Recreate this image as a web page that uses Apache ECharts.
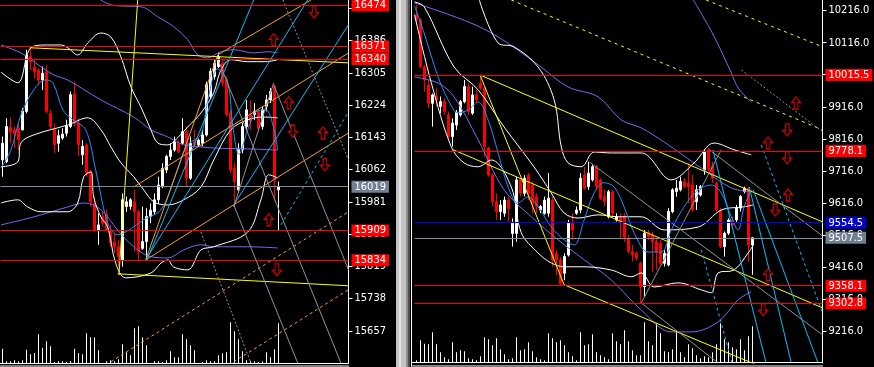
<!DOCTYPE html>
<html><head><meta charset="utf-8">
<script src="https://cdn.jsdelivr.net/npm/echarts@6/dist/echarts.min.js"></script>
<style>html,body{margin:0;padding:0;background:#000;overflow:hidden}#c{width:874px;height:367px;}</style>
</head><body><div id="c"></div>
<script>
// ---------------- DATA ----------------
// candles: [open, close, low, high]
const leftCandles = [
[16086,16128,16044,16145],[16082,16170,16078,16191],[16168,16157,16128,16193],[16162,16153,16116,16170],[16166,16136,16111,16178],
[16162,16209,16160,16216],[16208,16350,16203,16363],[16346,16333,16312,16367],[16319,16308,16291,16338],[16311,16287,16275,16317],
[16287,16304,16262,16321],[16308,16208,16203,16325],[16203,16170,16162,16212],[16163,16124,16103,16178],[16128,16147,16107,16162],
[16141,16151,16137,16166],[16153,16172,16145,16187],[16170,16250,16166,16258],[16252,16178,16170,16283],[16178,16124,16095,16191],
[16099,16120,16074,16136],[16124,16053,16044,16128],[16057,15981,15969,16061],[15977,15910,15906,15994],[15910,15923,15873,15952],
[15944,15927,15919,15956],[15950,15910,15910,15961],[15910,15877,15868,15923],[15880,15868,15852,15902],[15868,15843,15818,15885],
[15835,15986,15818,16002],[15969,15981,15956,15994],[15969,15986,15961,15990],[15981,15956,15856,16011],[15956,15856,15835,15961],
[15864,15881,15860,15969],[15881,15944,15835,15965],[15944,15960,15927,15977],[15956,15986,15948,16002],[15986,16023,15977,16044],
[16019,16065,16015,16078],[16061,16095,16053,16099],[16095,16111,16086,16128],[16111,16132,16107,16145],[16128,16107,16103,16136],
[16128,16157,16124,16191],[16157,16040,16019,16170],[16040,16128,16036,16145],[16132,16124,16120,16162],[16124,16136,16120,16140],
[16128,16149,16120,16162],[16149,16275,16145,16283],[16246,16309,16241,16317],[16296,16329,16288,16338],[16321,16346,16317,16355],
[16329,16279,16271,16338],[16288,16200,16195,16296],[16204,16061,16053,16212],[16066,16032,15969,16078],[16011,16112,16003,16128],
[16112,16170,16103,16179],[16170,16212,16162,16237],[16200,16183,16162,16237],[16200,16208,16187,16229],[16208,16166,16158,16212],
[16170,16212,16162,16221],[16221,16237,16208,16250],[16237,16258,16229,16267],[16271,16036,15982,16275],[16011,16019,15909,16032]
];
const leftVolume = [43,5,5,8,5,8,40,26,30,86,46,65,50,3,5,5,3,6,43,30,26,89,77,77,38,0,5,8,5,11,
56,33,23,104,110,77,53,0,5,5,3,8,35,17,17,86,71,53,38,0,3,8,5,5,23,29,32,122,95,71,35,8,5,5,3,5,32,17,41,119];

const rightCandles = [
[10203,10187,10171,10234],[10187,10041,10036,10192],[10041,10000,9963,10047],[9984,9927,9911,10000],[9927,9953,9854,9958],
[9948,9937,9917,9974],[9917,9932,9896,9948],[9932,9901,9891,9943],[9891,9823,9818,9901],[9823,9865,9792,9880],
[9859,9899,9844,9906],[9891,9932,9885,9937],[9932,9979,9927,10000],[9979,9901,9891,9989],[9896,9953,9891,9979],
[9953,9937,9927,9969],[9989,9974,9969,10015],[9974,9792,9761,9979],[9787,9703,9698,9792],[9703,9620,9605,9709],
[9620,9589,9563,9646],[9589,9610,9563,9625],[9584,9625,9573,9636],[9625,9599,9558,9636],[9521,9553,9480,9568],
[9521,9688,9495,9698],[9688,9646,9636,9693],[9646,9693,9636,9703],[9703,9646,9625,9709],[9672,9615,9584,9683],
[9636,9605,9584,9646],[9594,9605,9584,9610],[9584,9625,9579,9636],[9584,9631,9573,9709],[9625,9438,9417,9636],
[9459,9438,9391,9469],[9438,9365,9360,9448],[9397,9449,9375,9459],[9454,9553,9449,9563],[9553,9532,9501,9584],
[9584,9594,9579,9605],[9594,9693,9584,9709],[9703,9662,9657,9729],[9667,9709,9657,9745],[9688,9729,9683,9735],
[9729,9667,9657,9735],[9688,9631,9625,9693],[9636,9620,9605,9657],[9573,9651,9568,9657],[9651,9584,9573,9657],
[9563,9573,9558,9584],[9573,9558,9505,9584],[9575,9510,9495,9585],[9506,9464,9459,9516],[9464,9454,9433,9485],
[9459,9444,9438,9464],[9428,9355,9303,9433],[9355,9522,9324,9532],[9522,9511,9501,9532],[9516,9496,9402,9527],
[9496,9464,9407,9506],[9490,9428,9423,9501],[9428,9459,9418,9470],[9423,9590,9418,9600],[9589,9657,9584,9662],
[9652,9662,9636,9688],[9657,9683,9652,9698],[9683,9667,9662,9693],[9678,9667,9615,9740],[9672,9594,9589,9704],
[9620,9657,9594,9672],[9641,9667,9636,9672],[9719,9776,9704,9782],[9782,9719,9714,9787],[9730,9693,9678,9745],
[9678,9594,9589,9683],[9594,9480,9475,9600],[9480,9522,9449,9527],[9522,9563,9516,9568],[9563,9548,9537,9574],
[9563,9600,9553,9610],[9600,9636,9589,9641],[9652,9662,9646,9667],[9662,9485,9433,9667],[9485,9507.5,9392,9510]
];
const rightVolume = [8,68,58,56,92,56,32,17,11,62,32,38,35,14,11,8,20,77,71,53,74,41,26,11,14,77,38,41,62,35,
17,11,8,89,74,62,68,53,32,20,8,92,53,56,86,32,23,17,11,89,65,56,98,65,38,23,23,122,65,53,
119,89,35,32,41,92,32,17,56,44,23,14,20,17,32,56,119,71,62,47,41,71,38,80,110];

// axis tick labels
const leftTicks = [15657,15738,15819,15900,15981,16062,16143,16224,16305,16386,16467];
const rightTicks = [9216,9316,9416,9516,9616,9716,9816,9916,10016,10116,10216];

// horizontal levels
const leftRedLevels = [16474,16371,16340,15909,15834];
const leftLastPrice = 16019;
const rightRedLevels = [10015.5,9778.1,9358.1,9302.8];
const rightBlueLevel = 9554.5;
const rightLastPrice = 9507.5;

// trend lines: [barIndex1, price1, barIndex2, price2]
const leftYellow = [[6.8,16368,86.5,16330],[28.8,15800,86.5,15770],[29.1,15797,33.8,16488]];
const leftOrange = [[32.8,16018,86.5,16355],[35.8,15835,86.5,16154],[35.8,15835,53.8,16350],[53.8,16350,77.1,16488]];
const leftOrangeDash = [[27.1,15579,86.5,15956],[57.8,15579,86.5,15760]];
const leftSky = [[36.1,15835,62.8,16488],[36.1,15840,76.3,16488],[57.8,15973,86.5,16426]];
const leftSkyDash = [[69.6,15923,86.5,16207]];
const leftGray = [[54.1,16333,84.6,15576],[57.8,15973,73.8,15576],[67.8,16275,86.5,15810],[57.8,15968,67.8,16280]];
const leftGrayDash = [[70.1,16488,86.5,16086],[49.6,15905,62.1,15576]];

const rightYellow = [[15.9,10015,101.5,9557],[9.2,9782,101.5,9289],[15.9,10015,36.9,9361],[36.9,9361,86.2,9105]];
const rightYellowDash = [[23.7,10249,101.5,9844],[72.4,10249,101.5,10103]];
const rightGray = [[73.2,9782,101.5,9513],[43.2,9744,101.5,9205],[56.2,9304,76.2,9782],[56.2,9304,75.4,9117]];
const rightGrayDash = [[81.2,10031,101.5,9838]];
const rightSky = [[74.1,9782,87.4,9117],[83.2,9666,93.7,9117],[84.2,9657,100.4,9117]];
const rightSkyDash = [[86.2,9797,101.5,9273],[71.2,9470,78.9,9117]];

// indicator curves: [barIndex, price]
const leftFastMA = [[-0.4,16066],[2.1,16111],[4.6,16199],[7.8,16262],[10.8,16287],[12.6,16280],[15.1,16212],[17.6,16187],[20.8,16162],[23.3,16061],[26.3,15928],[28.8,15898],[31.6,15910],[35.3,15936],[39.6,15961],[43.3,16049],[46.3,16124],[49.6,16150],[51.3,16235],[53.8,16315],[56.3,16280],[57.6,16170],[59.1,16100],[61.3,16162],[63.3,16207],[65.8,16212],[67.6,16174],[68.8,16111]];
const leftBandUpper = [[-0.4,16307],[3.8,16280],[7.1,16368],[11.3,16375],[14.6,16375],[16.3,16368],[18.8,16350],[21.3,16380],[24.6,16405],[27.1,16395],[29.6,16345],[32.1,16270],[34.6,16219],[37.1,16162],[38.8,16129],[41.3,16124],[43.8,16142],[46.3,16169],[49.6,16204],[52.8,16255],[54.6,16312],[57.1,16338],[61.3,16333],[65.8,16333],[68.8,16338]];
const leftBandMid = [[-0.4,16069],[3.8,16081],[4.6,16129],[7.8,16149],[16.3,16174],[21.3,16192],[24.6,16162],[27.1,16119],[29.6,16079],[32.8,16044],[35.3,16011],[37.8,15981],[41.3,15973],[45.3,15986],[49.6,16018],[52.8,16086],[57.1,16162],[61.3,16187],[65.3,16194],[68.8,16192]];
const leftBandLower = [[-0.4,15978],[3.8,15986],[6.3,15968],[9.6,15956],[16.3,15956],[18.8,15978],[20.3,16044],[22.1,16056],[22.8,15993],[24.6,15943],[26.3,15918],[28.3,15827],[30.8,15790],[37.1,15802],[39.6,15827],[41.3,15835],[42.8,15817],[46.3,15810],[49.6,15860],[52.8,15868],[61.3,15905],[64.6,15986],[66.6,16049],[68.8,16041]];
const leftSlowTop = [[23.3,16501],[24.6,16488],[27.1,16476],[29.6,16473],[34.6,16471],[38.8,16446],[42.8,16421],[46.3,16388],[48.8,16350],[51.3,16343],[54.6,16358],[57.8,16363],[62.8,16355],[66.3,16358],[68.8,16355]];
const leftSlowMid = [[-0.4,16375],[4.6,16355],[7.8,16333],[12.8,16300],[16.3,16287],[24.6,16237],[32.8,16194],[37.1,16162],[41.3,16144],[45.3,16124],[49.6,16119],[52.8,16116],[61.3,16114],[68.8,16111]];
const leftSlowLow = [[-0.4,15923],[7.8,15943],[16.3,15968],[20.3,15978],[24.6,15961],[28.8,15910],[32.8,15868],[37.1,15843],[41.3,15840],[45.3,15860],[49.6,15873],[52.8,15868],[61.3,15868],[68.8,15865]];

const rightFastMA = [[-0.5,10231],[1.9,10146],[5.4,10009],[7.9,9938],[10.4,9897],[12.9,9906],[15.4,9931],[17.9,9875],[20.4,9772],[22.9,9666],[25.4,9616],[27.9,9635],[30.4,9604],[33.7,9541],[36.9,9501],[39.4,9485],[41.9,9563],[44.4,9647],[46.9,9679],[49.4,9666],[51.9,9604],[54.4,9523],[57.9,9463],[61.2,9463],[63.7,9532],[66.9,9604],[70.4,9657],[73.7,9672],[76.2,9647],[78.7,9573],[80.4,9532],[81.9,9604],[83.7,9657]];
const rightBandUpper = [[15.7,10249],[20.4,10115],[24.4,10103],[30.4,10040],[34.4,9938],[36.2,9791],[37.9,9741],[41.2,9729],[44.4,9775],[48.7,9772],[56.2,9772],[63.7,9688],[69.4,9741],[74.4,9803],[79.4,9782],[83.7,9766]];
const rightBandMid = [[-0.5,10243],[1.9,10228],[9.4,10040],[15.4,9969],[21.9,9853],[29.4,9728],[33.7,9647],[36.9,9585],[40.4,9569],[45.4,9579],[50.4,9573],[56.2,9573],[61.9,9532],[70.4,9541],[76.2,9594],[81.9,9604],[84.2,9610]];
const rightBandLower = [[-0.5,10203],[3.7,9991],[8.7,9791],[11.9,9741],[15.4,9729],[18.7,9750],[23.7,9666],[26.2,9523],[30.4,9460],[33.7,9429],[36.9,9417],[41.9,9417],[48.7,9407],[53.7,9386],[56.2,9398],[59.4,9354],[65.4,9367],[71.2,9345],[73.7,9336],[75.4,9398],[79.4,9407],[82.9,9460],[84.2,9485]];
const rightSlowTop = [[69.2,10249],[74.2,10140],[78.7,10022],[80.4,9975],[83.7,9931]];
const rightSlowMid = [[-0.5,10240],[12.9,10181],[20.4,10134],[30.4,10047],[37.9,9978],[45.4,9947],[51.2,9875],[56.2,9850],[61.9,9806],[71.2,9725],[78.7,9663],[83.7,9651]];
const rightSlowLow = [[-0.5,10009],[5.4,9990],[9.4,9947],[15.4,9813],[21.9,9657],[28.7,9573],[35.4,9501],[41.9,9439],[48.7,9376],[56.2,9282],[63.7,9214],[68.7,9214],[75.4,9245],[80.4,9314],[83.7,9339]];

// signal arrows: [barIndex, price]
const leftUpArrows = [[67.8,16388],[71.6,16230],[80.1,16154],[66.6,15936]];
const leftDownArrows = [[77.9,16458],[72.6,16159],[80.6,16074],[68.6,15810]];
const rightUpArrows = [[94.9,9928],[92.9,9641],[87.9,9803],[87.9,9392]];
const rightDownArrows = [[92.7,9844],[92.7,9757],[89.7,9594],[86.7,9283]];

// ---------------- CHART ----------------
const FONT = "'Liberation Sans Narrow','DejaVu Sans Condensed','Liberation Sans',sans-serif";
const LSLOTS = 87, RSLOTS = 102;
const chart = echarts.init(document.getElementById('c'), null, {renderer:'canvas'});

function segs(list, xi, yi, color, dash) {
  return list.map(s => ({type:'line', xAxisIndex:xi, yAxisIndex:yi, data:[[s[0],s[1]],[s[2],s[3]]],
    symbol:'none', silent:true, z:3, clip:true, animation:false,
    lineStyle:{color:color, width:1, type: dash || 'solid'}}));
}
function curve(pts, xi, yi, color) {
  return {type:'line', xAxisIndex:xi, yAxisIndex:yi, data:pts, symbol:'none', smooth:0.35,
    silent:true, z:3, clip:true, animation:false, lineStyle:{color:color, width:1}};
}
const UP = 'path://M5,0L10,6L7,6L7,13L3,13L3,6L0,6Z';
const DOWN = 'path://M3,0L7,0L7,7L10,7L5,13L0,7L3,7Z';
function arrows(pts, xi, yi, sym) {
  return {type:'scatter', xAxisIndex:xi, yAxisIndex:yi, data:pts, symbol:sym, symbolSize:[9,12],
    silent:true, z:5, animation:false,
    itemStyle:{color:'#000', borderColor:'#ff0000', borderWidth:1.2}};
}
function levels(red, others, fmt) {
  const d = red.map(v => ({yAxis:v, lineStyle:{color:'#ff0000'}, label:{backgroundColor:'#ff0000'}}));
  others.forEach(o => d.push({yAxis:o.v, lineStyle:{color:o.c}, label:{backgroundColor:o.bg}}));
  return {symbol:['none','none'], silent:true, animation:false,
    lineStyle:{type:'solid', width:1},
    label:{show:true, position:'end', distance:3, color:'#ffffff', fontSize:11, fontFamily:FONT,
      padding:[1,3,0,3], formatter: p => fmt(p.value)},
    data:d};
}
function yAx(gi, min, max, ticks, fmt) {
  return {type:'value', gridIndex:gi, position:'right', min:min, max:max,
    axisLine:{show:true, onZero:false, lineStyle:{color:'#ffffff', width:1}},
    axisTick:{show:true, customValues:ticks, length:4, inside:false, lineStyle:{color:'#ffffff'}},
    axisLabel:{show:true, customValues:ticks, color:'#ffffff', fontSize:11, fontFamily:FONT, margin:6, formatter:fmt},
    splitLine:{show:false}};
}

const candleStyle = {color:'#ffffff', color0:'#ff0000', borderColor:'#ffffff', borderColor0:'#ff0000', borderWidth:1};

const series = [
  {type:'bar', xAxisIndex:0, yAxisIndex:1, data:leftVolume, barWidth:1, itemStyle:{color:'#ffffff'}, silent:true, animation:false, z:1},
  {type:'bar', xAxisIndex:2, yAxisIndex:3, data:rightVolume, barWidth:1, itemStyle:{color:'#ffffff'}, silent:true, animation:false, z:1},
  {type:'candlestick', xAxisIndex:0, yAxisIndex:0, data:leftCandles, barWidth:3, itemStyle:candleStyle, silent:true, animation:false, z:2,
    markLine: levels(leftRedLevels, [{v:leftLastPrice, c:'#7f8b97', bg:'#708090'}], v => String(Math.round(v)))},
  {type:'candlestick', xAxisIndex:2, yAxisIndex:2, data:rightCandles, barWidth:3, itemStyle:candleStyle, silent:true, animation:false, z:2,
    markLine: levels(rightRedLevels, [{v:rightBlueLevel, c:'#0000ff', bg:'#0000cd'},{v:rightLastPrice, c:'#7f8b97', bg:'#708090'}], v => Number(v).toFixed(1))},
  // left indicators
  curve(leftSlowTop,1,0,'#7b68ee'), curve(leftSlowMid,1,0,'#7b68ee'), curve(leftSlowLow,1,0,'#7b68ee'),
  curve(leftBandUpper,1,0,'#ffffff'), curve(leftBandMid,1,0,'#ffffff'), curve(leftBandLower,1,0,'#ffffff'),
  curve(leftFastMA,1,0,'#1e90ff'),
  // right indicators
  curve(rightSlowTop,3,2,'#7b68ee'), curve(rightSlowMid,3,2,'#7b68ee'), curve(rightSlowLow,3,2,'#7b68ee'),
  curve(rightBandUpper,3,2,'#ffffff'), curve(rightBandMid,3,2,'#ffffff'), curve(rightBandLower,3,2,'#ffffff'),
  curve(rightFastMA,3,2,'#1e90ff'),
  ...segs(leftYellow,1,0,'#ffff00'), ...segs(leftOrange,1,0,'#f0a030'), ...segs(leftOrangeDash,1,0,'#f0a030',[3,3]),
  ...segs(leftSky,1,0,'#00bfff'), ...segs(leftSkyDash,1,0,'#00bfff',[3,3]),
  ...segs(leftGray,1,0,'#8a939c'), ...segs(leftGrayDash,1,0,'#8a939c',[2,2]),
  ...segs(rightYellow,3,2,'#ffff00'), ...segs(rightYellowDash,3,2,'#ffff00',[3,4]),
  ...segs(rightGray,3,2,'#8a939c'), ...segs(rightGrayDash,3,2,'#8a939c',[2,2]),
  ...segs(rightSky,3,2,'#00bfff'), ...segs(rightSkyDash,3,2,'#00bfff',[3,3]),
  arrows(leftUpArrows,1,0,UP), arrows(leftDownArrows,1,0,DOWN),
  arrows(rightUpArrows,3,2,UP), arrows(rightDownArrows,3,2,DOWN)
];

const hid = {show:false};
const option = {
  backgroundColor:'#000000',
  animation:false,
  grid:[
    {left:0.5, top:0, width:348, height:363, containLabel:false},
    {left:414.5, top:0, width:408, height:363, containLabel:false}
  ],
  xAxis:[
    {type:'category', gridIndex:0, data:Array.from({length:LSLOTS},(_,i)=>i), boundaryGap:true, axisLine:hid, axisTick:hid, axisLabel:hid, splitLine:hid},
    {type:'value', gridIndex:0, min:-0.5, max:LSLOTS-0.5, show:false, splitLine:hid},
    {type:'category', gridIndex:1, data:Array.from({length:RSLOTS},(_,i)=>i), boundaryGap:true, axisLine:hid, axisTick:hid, axisLabel:hid, splitLine:hid},
    {type:'value', gridIndex:1, min:-0.5, max:RSLOTS-0.5, show:false, splitLine:hid}
  ],
  yAxis:[
    yAx(0, 15576, 16488, leftTicks, v => String(v)),
    {type:'value', gridIndex:0, min:0, max:1090, show:false, splitLine:hid},
    yAx(1, 9117, 10249, rightTicks, v => Number(v).toFixed(1)),
    {type:'value', gridIndex:1, min:0, max:1090, show:false, splitLine:hid}
  ],
  graphic:[
    {type:'rect', silent:true, z:100, shape:{x:396,y:0,width:14,height:367}, style:{fill:'#c4c4c4'}},
    {type:'rect', silent:true, z:100, shape:{x:399,y:0,width:2,height:367}, style:{fill:'#e6e6e6'}},
    {type:'rect', silent:true, z:100, shape:{x:406,y:0,width:2,height:367}, style:{fill:'#8c8c8c'}},
    {type:'rect', silent:true, z:100, shape:{x:408,y:0,width:2,height:367}, style:{fill:'#505050'}},
    {type:'line', silent:true, z:100, shape:{x1:0,y1:363.5,x2:349,y2:363.5}, style:{stroke:'#ffffff', lineWidth:1}},
    {type:'line', silent:true, z:100, shape:{x1:0,y1:366,x2:349,y2:366}, style:{stroke:'#ffffff', lineWidth:1}},
    {type:'line', silent:true, z:100, shape:{x1:411.5,y1:0,x2:411.5,y2:366}, style:{stroke:'#ffffff', lineWidth:1}},
    {type:'line', silent:true, z:100, shape:{x1:411,y1:362.5,x2:823,y2:362.5}, style:{stroke:'#ffffff', lineWidth:1}},
    {type:'line', silent:true, z:100, shape:{x1:411,y1:366,x2:823,y2:366}, style:{stroke:'#ffffff', lineWidth:1}}
  ],
  series: series
};
chart.setOption(option);
</script></body></html>
